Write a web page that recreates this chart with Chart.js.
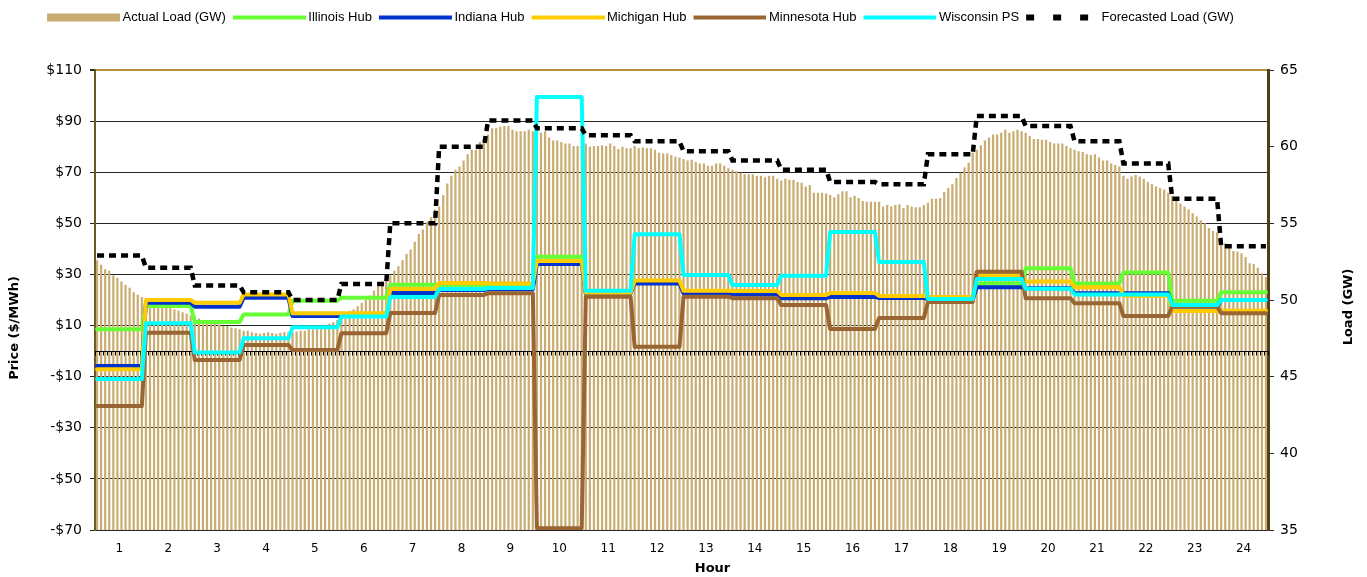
<!DOCTYPE html>
<html>
<head>
  <title>Hub Prices and Load</title>
  <style>
    body {
      margin: 0;
      padding: 0;
      background: #fff;
    }
    canvas {
      display: block;
    }
  </style>
</head>
<body>
  <canvas id="chart" width="1367" height="577"></canvas>

  <script src="https://cdn.jsdelivr.net/npm/chart.js"></script>
  <script>
    // hour labels on the x axis, 12 five-minute intervals per hour
    const hourLabels = ['1', '2', '3', '4', '5', '6', '7', '8', '9', '10', '11', '12',
      '13', '14', '15', '16', '17', '18', '19', '20', '21', '22', '23', '24'];
    const intervalsPerHour = 12;

    // actual load (GW), one value per 5 minutes, one row per hour
    const actualLoad = [
      52.6, 52.3, 52.0, 51.9, 51.6, 51.45, 51.2, 51.0, 50.8, 50.5, 50.35, 50.2,
      50.1, 50.0, 50.0, 49.9, 49.8, 49.7, 49.6, 49.4, 49.3, 49.2, 49.1, 49.0,
      48.9, 48.8, 48.7, 48.6, 48.5, 48.45, 48.4, 48.3, 48.3, 48.2, 48.15, 48.1,
      48.0, 48.0, 47.9, 47.85, 47.8, 47.85, 47.9, 47.85, 47.8, 47.85, 47.9, 47.9,
      47.9, 47.95, 48.0, 48.0, 48.1, 48.1, 48.2, 48.3, 48.35, 48.45, 48.55, 48.7,
      48.9, 49.1, 49.3, 49.4, 49.6, 49.8, 50.0, 50.3, 50.6, 50.9, 51.2, 51.5,
      51.6, 51.9, 52.2, 52.6, 53.0, 53.3, 53.8, 54.3, 54.6, 55.1, 55.4, 55.9,
      56.1, 56.85, 57.6, 58.1, 58.5, 58.7, 59.1, 59.5, 59.8, 59.8, 60.3, 60.6,
      60.8, 61.2, 61.2, 61.3, 61.35, 61.35, 61.1, 61.0, 61.0, 61.0, 61.1, 61.0,
      61.0, 60.9, 61.0, 60.6, 60.4, 60.4, 60.3, 60.2, 60.2, 60.05, 60.05, 60.05,
      60.2, 60.0, 60.05, 60.05, 60.1, 60.05, 60.2, 60.05, 59.85, 60.0, 59.9, 59.9,
      60.05, 59.9, 59.95, 59.9, 59.9, 59.8, 59.6, 59.55, 59.55, 59.45, 59.35, 59.3,
      59.2, 59.1, 59.15, 59.0, 58.9, 58.9, 58.75, 58.75, 58.9, 58.9, 58.75, 58.6,
      58.5, 58.4, 58.3, 58.2, 58.2, 58.2, 58.1, 58.1, 58.0, 58.1, 58.1, 57.9,
      57.8, 57.9, 57.85, 57.85, 57.7, 57.65, 57.4, 57.5, 57.0, 57.0, 57.0, 56.95,
      56.85, 56.7, 56.9, 57.1, 57.1, 56.7, 56.8, 56.65, 56.45, 56.4, 56.4, 56.4,
      56.4, 56.1, 56.2, 56.1, 56.2, 56.25, 56.0, 56.2, 56.1, 56.05, 56.05, 56.2,
      56.35, 56.6, 56.6, 56.65, 57.05, 57.3, 57.55, 57.95, 58.3, 58.65, 58.95, 59.6,
      59.8, 60.1, 60.4, 60.6, 60.8, 60.8, 60.9, 61.1, 60.9, 61.0, 61.1, 61.0,
      60.9, 60.7, 60.5, 60.5, 60.45, 60.45, 60.3, 60.2, 60.2, 60.2, 60.05, 59.9,
      59.8, 59.7, 59.65, 59.5, 59.45, 59.5, 59.3, 59.1, 59.1, 58.9, 58.8, 58.7,
      58.1, 57.9, 58.05, 58.15, 58.05, 57.9, 57.7, 57.55, 57.4, 57.3, 57.2, 57.0,
      56.8, 56.55, 56.3, 56.1, 55.9, 55.65, 55.45, 55.2, 55.0, 54.7, 54.5, 54.4,
      54.1, 53.7, 53.4, 53.2, 53.15, 53.05, 52.8, 52.4, 52.35, 52.1, 51.75, 51.5
    ];

    // forecasted load (GW), hourly
    const forecastLoad = [52.9, 52.1, 50.95, 50.5, 50.0, 51.05, 55.0, 60.0, 61.7, 61.2, 60.75, 60.35,
      59.7, 59.1, 58.5, 57.7, 57.55, 59.5, 62.0, 61.35, 60.35, 58.9, 56.6, 53.5];

    // hourly prices ($/MWh)
    const illinoisHub = [8.6, 17.7, 11.4, 14.3, 19.7, 20.9, 26.0, 26.0, 25.9, 36.9, 22.3, 27.4,
      23.0, 22.5, 21.5, 21.2, 21.2, 21.2, 26.5, 32.4, 26.5, 30.8, 19.7, 23.0];
    const indianaHub = [-5.8, 18.9, 17.4, 20.9, 13.7, 14.0, 22.7, 23.9, 24.2, 34.1, 22.6, 26.5,
      22.6, 22.2, 20.7, 21.2, 20.8, 20.4, 25.0, 24.6, 22.6, 22.6, 17.5, 20.0];
    const michiganHub = [-7.1, 20.0, 18.9, 22.2, 14.8, 14.8, 24.3, 26.7, 26.5, 35.3, 22.8, 27.6,
      23.6, 23.5, 22.0, 22.7, 21.6, 21.2, 29.5, 27.2, 25.0, 21.7, 15.7, 15.8];
    const minnesotaHub = [-21.5, 7.2, -3.5, 2.4, 0.4, 7.0, 14.9, 22.0, 22.6, -69.3, 21.3, 1.7,
      21.3, 20.7, 18.0, 8.7, 13.0, 19.2, 31.1, 20.7, 18.7, 13.7, 17.5, 14.8];
    const wisconsinPS = [-10.9, 10.9, -0.5, 5.0, 9.3, 13.5, 21.2, 24.3, 24.7, 99.4, 23.6, 45.7,
      29.8, 25.9, 29.5, 46.6, 34.9, 20.4, 28.2, 24.4, 22.2, 22.2, 18.0, 20.0];

    // one point per 5-minute interval, holding the hour's value
    const stepPoints = hourly => hourly.flatMap((v, h) =>
      Array.from({ length: intervalsPerHour }, (_, k) => ({ x: h * intervalsPerHour + k + 0.5, y: v })));
    const loadPoints = actualLoad.map((v, i) => ({ x: i + 0.5, y: v }));

    const tickFont = { family: 'DejaVu Sans', size: 14 };
    const titleFont = 'bold 13px "DejaVu Sans"';

    const lineSet = (label, values, color, order) => ({
      type: 'line',
      label: label,
      data: stepPoints(values),
      yAxisID: 'y',
      borderColor: color,
      backgroundColor: color,
      borderWidth: 4,
      pointRadius: 0,
      tension: 0,
      borderJoinStyle: 'round',
      borderCapStyle: 'round',
      order: order
    });

    const datasets = [
      {
        type: 'bar',
        label: 'Actual Load (GW)',
        data: loadPoints,
        yAxisID: 'yLoad',
        backgroundColor: '#c9ad72',
        barPercentage: 0.55,
        categoryPercentage: 1,
        order: 7
      },
      lineSet('Illinois Hub', illinoisHub, '#66ff33', 6),
      lineSet('Indiana Hub', indianaHub, '#0033cc', 5),
      lineSet('Michigan Hub', michiganHub, '#ffcc00', 4),
      lineSet('Minnesota Hub', minnesotaHub, '#996633', 3),
      lineSet('Wisconsin PS', wisconsinPS, '#00ffff', 2),
      {
        type: 'line',
        label: 'Forecasted Load (GW)',
        data: stepPoints(forecastLoad),
        yAxisID: 'yLoad',
        borderColor: '#000',
        backgroundColor: '#000',
        borderWidth: 4.5,
        borderDash: [7, 5],
        borderCapStyle: 'butt',
        pointRadius: 0,
        tension: 0,
        order: 1
      }
    ];

    // legend pictures: box for the load bars, line or squares for the rest
    const swatchWidth = 73;
    const legendPointWidth = 69;
    function makeSwatch(ds) {
      const c = document.createElement('canvas');
      c.width = 2 * swatchWidth - legendPointWidth;
      c.height = 10;
      const g = c.getContext('2d');
      const x0 = c.width - swatchWidth;
      g.fillStyle = ds.type === 'bar' ? ds.backgroundColor : ds.borderColor;
      if (ds.type === 'bar') {
        g.fillRect(x0, 1, swatchWidth, 8);
      } else if (ds.borderDash) {
        [0, 27, 54].forEach(dx => g.fillRect(x0 + dx, 2, 8, 6));
      } else {
        g.fillRect(x0, 3, swatchWidth, 4);
      }
      return c;
    }
    const swatches = datasets.map(makeSwatch);

    // black zero line with small ticks, drawn over the bars but under the lines
    const zeroLine = {
      id: 'zeroLine',
      afterDatasetDraw(chart, args) {
        if (args.index !== 0) return;
        const { ctx, scales: { x, y } } = chart;
        const y0 = Math.round(y.getPixelForValue(0)) + 0.5;
        ctx.save();
        ctx.strokeStyle = '#000';
        ctx.lineWidth = 1;
        ctx.beginPath();
        ctx.moveTo(x.left, y0);
        ctx.lineTo(x.right, y0);
        for (let i = 0; i <= actualLoad.length; i++) {
          const px = Math.round(x.getPixelForValue(i)) + 0.5;
          ctx.moveTo(px, y0);
          ctx.lineTo(px, y0 + 4);
        }
        ctx.stroke();
        ctx.restore();
      }
    };

    // legend band of fixed height, legend row starting near the left edge
    const legendBand = {
      id: 'legendBand',
      beforeInit(chart) {
        const fit = chart.legend.fit;
        chart.legend.fit = function () {
          fit.bind(chart.legend)();
          this.height = 70;
        };
      },
      afterLayout(chart) {
        chart.legend.left = 40;
        chart.legend.top = 4;
      }
    };

    // axis titles, both vertical ones reading upwards
    const axisTitles = {
      id: 'axisTitles',
      afterDraw(chart) {
        const { ctx, chartArea: a } = chart;
        const midY = (a.top + a.bottom) / 2;
        ctx.save();
        ctx.fillStyle = '#000';
        ctx.font = titleFont;
        ctx.textAlign = 'center';
        ctx.textBaseline = 'middle';
        ctx.fillText('Hour', (a.left + a.right) / 2 + 31, a.bottom + 39);
        [['Price ($/MWh)', a.left - 80, midY + 28], ['Load (GW)', a.right + 81, midY + 7]].forEach(([t, x, y]) => {
          ctx.save();
          ctx.translate(x, y);
          ctx.rotate(-Math.PI / 2);
          ctx.fillText(t, 0, 0);
          ctx.restore();
        });
        ctx.restore();
      }
    };

    const ctx = document.getElementById('chart').getContext('2d');
    new Chart(ctx, {
      type: 'bar',
      data: { datasets: datasets },
      plugins: [zeroLine, legendBand, axisTitles],
      options: {
        responsive: false,
        animation: false,
        layout: { padding: 0 },
        plugins: {
          tooltip: { enabled: false },
          legend: {
            position: 'top',
            align: 'start',
            labels: {
              usePointStyle: true,
              pointStyleWidth: legendPointWidth,
              boxHeight: 10,
              padding: 7,
              color: '#000',
              font: { family: "'Liberation Sans', Arial, sans-serif", size: 13 },
              generateLabels: chart => chart.data.datasets.map((ds, i) => ({
                text: ds.label,
                pointStyle: swatches[i],
                fillStyle: 'transparent',
                strokeStyle: 'transparent',
                lineWidth: 0,
                hidden: false,
                datasetIndex: i,
                fontColor: '#000'
              })),
              sort: (a, b) => a.datasetIndex - b.datasetIndex
            }
          }
        },
        scales: {
          x: {
            type: 'linear',
            min: 0,
            max: 288,
            offset: false,
            afterBuildTicks: axis => {
              axis.ticks = hourLabels.map((h, i) => ({ value: i * intervalsPerHour + intervalsPerHour / 2 }));
            },
            afterFit: s => { s.height = 47; },
            ticks: {
              autoSkip: false,
              maxRotation: 0,
              padding: 12,
              color: '#000',
              font: { family: 'DejaVu Sans', size: 12 },
              callback: (v, i) => hourLabels[i]
            },
            grid: { display: false, drawTicks: false },
            border: { display: false }
          },
          y: {
            position: 'left',
            min: -70,
            max: 110,
            afterFit: s => { s.width = 95; },
            ticks: {
              stepSize: 20,
              padding: 8,
              color: '#000',
              font: tickFont,
              callback: v => (v < 0 ? '-$' : '$') + Math.abs(v)
            },
            grid: {
              color: c => (c.tick && c.tick.value === 110 ? '#b48a3c' : '#262626'),
              lineWidth: c => (c.tick && c.tick.value === 110 ? 2 : 1),
              tickColor: '#262626',
              tickLength: 5
            },
            border: { color: '#6b5520', width: 2 }
          },
          yLoad: {
            position: 'right',
            min: 35,
            max: 65,
            afterFit: s => { s.width = 99; },
            ticks: {
              stepSize: 5,
              padding: 6,
              color: '#000',
              font: tickFont
            },
            grid: { drawOnChartArea: false, tickLength: 6, color: '#262626' },
            border: { color: '#4f3f14', width: 3 }
          }
        }
      }
    });
  </script>
</body>
</html>
